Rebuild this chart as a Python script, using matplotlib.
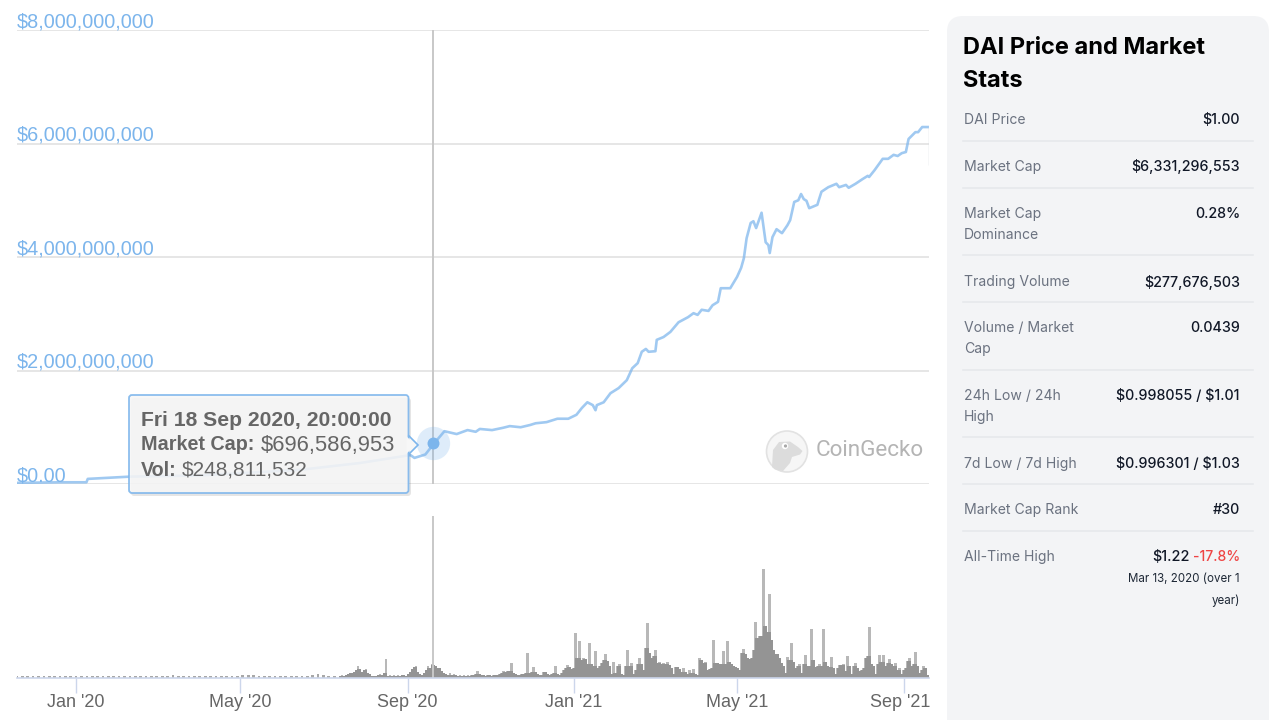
import pandas as pd
import matplotlib
matplotlib.use('Agg')
import matplotlib.pyplot as plt
import matplotlib.dates as mdates
from matplotlib.patches import FancyBboxPatch, Polygon, Circle
from matplotlib.transforms import ScaledTranslation
import numpy as np

# market cap, days since launch / $bn
cap_days = [0, 32, 51, 52, 83, 134, 208, 252, 281, 289, 292, 300, 305.8, 314, 323, 331, 337, 340, 349, 357, 362, 370,
            377, 381, 389, 397, 405, 411, 415, 419, 423, 425, 426, 431, 436, 442, 448, 452, 456, 459, 462, 464, 469,
            470, 475, 480, 486, 493, 497, 500, 503, 508, 511, 515, 517, 524, 529, 532, 534, 536, 539, 541, 543, 547,
            550, 552, 553, 555, 558, 562, 566, 568, 571, 574, 576, 578, 580, 582, 588, 589, 591, 596, 602, 604, 609,
            611, 616, 621, 625, 626, 630, 636, 640, 644, 647, 650, 653, 655, 660, 662, 665, 669]
cap_bn = [0.02, 0.03, 0.03, 0.09, 0.13, 0.15, 0.25, 0.37, 0.48, 0.51, 0.46, 0.52, 0.697, 0.93, 0.88, 0.95, 0.92, 0.97,
          0.95, 0.99, 1.02, 1.00, 1.04, 1.07, 1.09, 1.15, 1.15, 1.22, 1.34, 1.44, 1.39, 1.30, 1.39, 1.44, 1.60, 1.69,
          1.83, 2.04, 2.13, 2.33, 2.38, 2.33, 2.34, 2.54, 2.59, 2.68, 2.85, 2.94, 3.01, 2.98, 3.07, 3.05, 3.15, 3.21,
          3.45, 3.45, 3.65, 3.81, 3.98, 4.33, 4.60, 4.63, 4.51, 4.78, 4.26, 4.21, 4.07, 4.35, 4.49, 4.42, 4.56, 4.65,
          4.97, 5.00, 5.11, 5.02, 4.99, 4.86, 4.92, 5.00, 5.15, 5.23, 5.29, 5.23, 5.27, 5.22, 5.29, 5.37, 5.43, 5.41,
          5.53, 5.73, 5.73, 5.80, 5.78, 5.83, 5.85, 6.08, 6.20, 6.20, 6.29, 6.29]
selected_day = 305.8
selected_cap = 0.72

# volume in $m, quiet first months then busy part
vol_quiet = [30, 32, 28, 34, 30, 32, 30, 34, 28, 32, 30, 30, 34, 32, 28, 30, 32, 30, 34, 30, 28, 32, 30, 34, 30, 32,
             30, 28, 40, 60, 40, 32, 30, 34, 28, 32, 30, 30, 34, 32, 30, 40, 54, 50, 46, 36, 30, 32, 30, 34, 30, 32,
             30, 34, 40, 60, 72, 46, 36, 34]
vol_busy = [36, 54, 36, 54, 72, 90, 90, 108, 144, 216, 162, 108, 144, 162, 90, 72, 36, 36, 36, 54, 72, 54, 90, 342,
            36, 54, 36, 54, 36, 54, 36, 54, 54, 36, 72, 108, 162, 198, 216, 108, 72, 54, 90, 144, 216, 180, 252, 234,
            216, 180, 180, 126, 90, 72, 54, 90, 54, 72, 54, 36, 54, 36, 54, 36, 54, 36, 54, 54, 72, 126, 72, 54, 54,
            36, 54, 54, 36, 54, 54, 54, 72, 90, 126, 108, 126, 126, 270, 90, 72, 54, 54, 72, 72, 90, 450, 90, 108,
            198, 108, 72, 54, 54, 108, 108, 72, 54, 72, 90, 216, 72, 54, 90, 144, 180, 234, 198, 162, 180, 810, 360,
            666, 324, 360, 342, 252, 630, 252, 216, 486, 180, 216, 270, 324, 432, 306, 216, 72, 288, 90, 216, 252,
            72, 54, 216, 504, 216, 270, 72, 144, 252, 360, 252, 144, 540, 990, 450, 360, 396, 504, 270, 288, 252,
            270, 252, 288, 234, 180, 72, 198, 198, 162, 108, 180, 108, 72, 144, 90, 162, 72, 54, 360, 324, 270, 288,
            144, 162, 180, 684, 270, 270, 252, 252, 486, 252, 666, 288, 252, 216, 198, 180, 144, 450, 522, 432, 360,
            342, 360, 504, 1008, 720, 756, 756, 1962, 936, 828, 1512, 684, 504, 432, 432, 360, 270, 216, 90, 378,
            324, 630, 288, 180, 216, 252, 90, 252, 414, 216, 216, 882, 324, 198, 216, 252, 216, 882, 288, 216, 198,
            378, 180, 72, 180, 234, 234, 252, 126, 396, 216, 72, 216, 270, 180, 126, 144, 180, 360, 396, 918, 252,
            216, 72, 252, 414, 288, 414, 216, 270, 342, 252, 216, 270, 144, 180, 72, 144, 180, 306, 360, 216, 252,
            468, 216, 90, 144, 216, 180, 54]

price_ticks = [0, 2, 4, 6, 8]
price_labels = ['$0.00', '$2,000,000,000', '$4,000,000,000', '$6,000,000,000', '$8,000,000,000']

row_labels = ['DAI Price', 'Market Cap', 'Market Cap\nDominance', 'Trading Volume', 'Volume / Market\nCap',
              '24h Low / 24h\nHigh', '7d Low / 7d High', 'Market Cap Rank', 'All-Time High']
row_values = ['$1.00', '$6,331,296,553', '0.28%', '$277,676,503', '0.0439', '$0.998055 / $1.01',
              '$0.996301 / $1.03', '#30', '$1.22']

BLUE = '#7cb5ec'
GREY = '#666666'
start = pd.Timestamp('2019-11-19')
to_num = lambda days: mdates.date2num(start) + np.asarray(days, dtype=float)

plt.rcParams['font.family'] = ['Liberation Sans', 'DejaVu Sans']
fig = plt.figure(figsize=(12.8, 7.2), dpi=100, facecolor='white')


def px_axes(left, top, right, bottom):
    return fig.add_axes([left / 1280, 1 - bottom / 720, (right - left) / 1280, (bottom - top) / 720])


# price chart
ax = px_axes(17, 30, 929, 484)
ax.plot(to_num(cap_days), cap_bn, color=BLUE, lw=1.9, alpha=0.72, zorder=3, solid_joinstyle='round')
ax.vlines(to_num(670), 5.62, 6.29, color='#d4d8dd', lw=1, zorder=3)
ax.axvline(to_num(selected_day), color='#c8c8c8', lw=1.4, zorder=2)
ax.plot(to_num(selected_day), selected_cap, 'o', ms=24, color=BLUE, alpha=0.25, mew=0, zorder=4)
ax.plot(to_num(selected_day), selected_cap, 'o', ms=8.6, color=BLUE, mew=0, zorder=5)
ax.set_xlim(to_num(0), to_num(670))
ax.set_ylim(0, 8)
ax.set_yticks(price_ticks)
ax.set_yticklabels(price_labels, fontsize=14.35, color=BLUE)
ax.tick_params(axis='y', length=0, pad=0)
label_shift = ScaledTranslation(0, -1.2 / 100, fig.dpi_scale_trans)
for lab in ax.get_yticklabels():
    lab.set_ha('left')
    lab.set_va('bottom')
    lab.set_transform(lab.get_transform() + label_shift)
ax.set_xticks([])
ax.grid(axis='y', color='#e2e2e2', lw=1.2)
ax.set_axisbelow(True)
for s in ax.spines.values():
    s.set_visible(False)
ax.patch.set_alpha(0)

# volume chart, the part of a bar above its neighbours comes out lighter in the reference
vax = px_axes(17, 516, 929, 678)
vax.bar(to_num(np.linspace(0, 233, len(vol_quiet))), vol_quiet, width=2.0, color='#a8a8a8', lw=0)
busy_x = to_num(np.linspace(237.3, 669, len(vol_busy)))
busy = np.array(vol_busy, dtype=float)
neighbours = np.maximum(np.roll(busy, 1), np.roll(busy, -1))
vax.bar(busy_x, busy, width=2.1, color='#b8b8b8', lw=0)
vax.bar(busy_x, np.minimum(busy, neighbours), width=1.6, color='#949494', lw=0)
vax.axvline(to_num(selected_day), color='#c8c8c8', lw=1.4, zorder=1)
vax.set_xlim(to_num(0), to_num(670))
vax.set_ylim(0, 2916)
vax.set_yticks([])
vax.xaxis.set_major_locator(mdates.MonthLocator(bymonth=[1, 5, 9]))
vax.xaxis.set_major_formatter(mdates.DateFormatter("%b '%y"))
vax.tick_params(axis='x', length=10.8, width=1, color='#ccd6eb', labelsize=13, labelcolor=GREY, pad=1)
last_shift = ScaledTranslation(-4.5 / 100, 0, fig.dpi_scale_trans)
for lab in vax.get_xticklabels():
    if lab.get_text() == "Sep '21":
        lab.set_transform(lab.get_transform() + last_shift)
for k, s in vax.spines.items():
    s.set_visible(k == 'bottom')
vax.spines['bottom'].set_color('#ccd6eb')
vax.spines['bottom'].set_linewidth(1.2)
vax.patch.set_alpha(0)

# overlay in pixel coordinates for tooltip, logo and stats panel
ov = fig.add_axes([0, 0, 1, 1], zorder=10)
ov.set_xlim(0, 1280)
ov.set_ylim(720, 0)
ov.axis('off')

# CoinGecko logo
ov.add_patch(Circle((787, 451.5), 20.5, fc='#f6f6f6', ec='#e2e2e2', lw=1.2))
gecko = [(772, 467), (773, 450), (779, 442), (790, 441.5), (798, 447), (802.5, 451), (800, 454.5), (792, 457),
         (790, 463), (783, 471), (775, 469.5)]
ov.add_patch(Polygon(gecko, closed=True, fc='#dcdcdc', ec='none'))
ov.add_patch(Circle((785, 446), 3.2, fc='white', ec='none'))
ov.add_patch(Circle((785.5, 446), 1.6, fc='#a8a8a8', ec='none'))
ov.text(816, 450, 'CoinGecko', fontsize=16.2, color='#b4b4b4', va='center', ha='left', family='Roboto')

# tooltip
ov.add_patch(FancyBboxPatch((131, 398), 280, 98, boxstyle='round,pad=0,rounding_size=3', fc='#000000', ec='none', alpha=0.10))
ov.add_patch(Polygon([(408, 435), (418, 445), (408, 455)], closed=True, fc='#f7f7f7', ec=BLUE, lw=1.2))
ov.add_patch(FancyBboxPatch((129, 395), 279.5, 98, boxstyle='round,pad=0,rounding_size=3', fc='#f7f7f7', ec=BLUE, lw=1.3, alpha=0.88))
ov.add_patch(Polygon([(406.5, 436.5), (416, 445), (406.5, 453.5)], closed=True, fc='#f7f7f7', ec='none'))
ov.text(141, 420, 'Fri 18 Sep 2020, 20:00:00', fontsize=15.2, weight='bold', color=GREY, va='center')
ov.text(141, 445, 'Market Cap:', fontsize=14.2, weight='bold', color=GREY, va='center')
ov.text(261, 445, '$696,586,953', fontsize=15.8, color=GREY, va='center')
ov.text(141, 470, 'Vol:', fontsize=14.2, weight='bold', color=GREY, va='center')
ov.text(182, 470, '$248,811,532', fontsize=15, color=GREY, va='center')

# stats panel
INTER = ['Inter', 'DejaVu Sans']
ov.add_patch(FancyBboxPatch((947, 16), 322, 760, boxstyle='round,pad=0,rounding_size=16', fc='#f3f4f6', ec='none'))
ov.text(963, 48, 'DAI Price and Market', fontsize=17.0, weight='bold', color='black', va='center', family=INTER)
ov.text(963, 81, 'Stats', fontsize=17.0, weight='bold', color='black', va='center', family=INTER)

row_y = [120, 167, 214, 282, 328, 396, 464, 510, 557]
sep_y = [141, 188, 255, 302, 370, 437, 484, 531]
for label, value, y in zip(row_labels, row_values, row_y):
    for j, part in enumerate(label.split('\n')):
        ov.text(964, y + j * 21, part, fontsize=10.1, color='#6b7280', va='center', family=INTER)
    if label != 'All-Time High':
        ov.text(1240, y, value, fontsize=10.3, color='#111827', va='center', ha='right', family=INTER,
                weight='medium', parse_math=False)
for y in sep_y:
    ov.plot([963, 1253], [y, y], color='#e5e7eb', lw=1.1)

ov.text(1190, 557, '$1.22', fontsize=10.4, color='#111827', va='center', ha='right', family=INTER, weight='medium')
ov.text(1240, 557, '-17.8%', fontsize=10.1, color='#ef4444', va='center', ha='right', family=INTER, weight='medium')
ov.text(1240, 579, 'Mar 13, 2020 (over 1', fontsize=8.3, color='#1f2937', va='center', ha='right', family=INTER)
ov.text(1240, 601, 'year)', fontsize=8.3, color='#1f2937', va='center', ha='right', family=INTER)

fig.savefig('out.png', dpi=100)
